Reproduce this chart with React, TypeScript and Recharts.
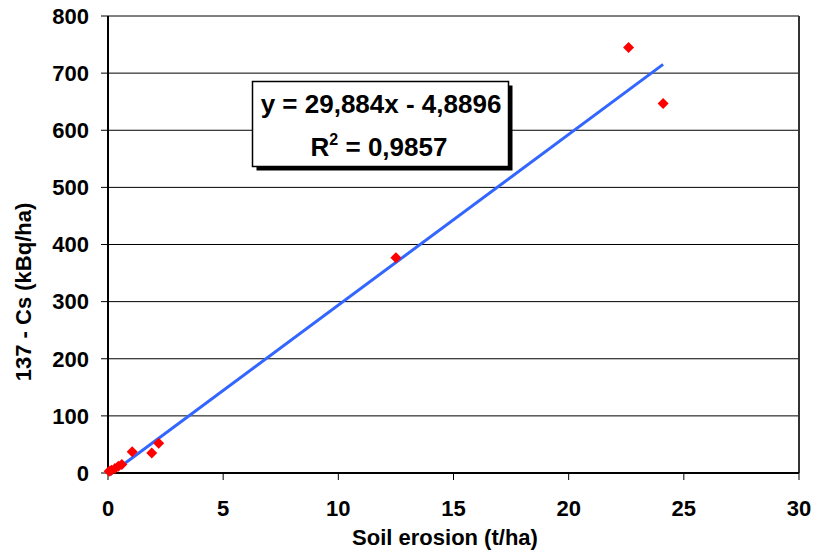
import React from "react";
import {
  ScatterChart, Scatter, XAxis, YAxis, CartesianGrid, ReferenceLine, Customized
} from "recharts";

// soil erosion (t/ha) vs 137-Cs (kBq/ha)
const erosion = [0.05, 0.15, 0.3, 0.45, 0.6, 1.05, 1.9, 2.2, 12.5, 22.6, 24.1];
const cesium = [3, 5, 8, 12, 15, 37, 35, 52, 377, 745, 647];

const xTicks = [0, 5, 10, 15, 20, 25, 30];
const yTicks = [0, 100, 200, 300, 400, 500, 600, 700, 800];

// trend line coefficients as printed on the chart
const slope = 29.884;
const intercept = -4.8896;
const rSquared = "0,9857";

const points = erosion.map((x, i) => ({ x, y: cesium[i] }));
const xMin = Math.min(...erosion);
const xMax = Math.max(...erosion);

const font = "'Liberation Sans', Arial, sans-serif";

const Diamond = (props: any) => {
  const { cx, cy } = props;
  const r = 5.5;
  return (
    <path
      d={`M${cx},${cy - r}L${cx + r},${cy}L${cx},${cy + r}L${cx - r},${cy}Z`}
      fill="#ff0000"
    />
  );
};

const EquationBox = () => (
  <g fontFamily={font} fontWeight="bold" fontSize={26} fill="#000">
    <rect x={256.5} y={85.5} width={256} height={85} fill="#000" />
    <rect x={252.5} y={81.5} width={256} height={85} fill="#fff" stroke="#000" strokeWidth={1.5} />
    <text x={381} y={113} textAnchor="middle">y = 29,884x - 4,8896</text>
    <text x={379} y={156} textAnchor="middle">
      R<tspan fontSize={16} dy={-11}>2</tspan><tspan dy={11}> = {rSquared}</tspan>
    </text>
  </g>
);

export default function App() {
  return (
    <div style={{ position: "absolute", left: 0, top: 0, background: "#fff" }}>
      <ScatterChart width={814} height={554} margin={{ top: 16, right: 15, left: 0, bottom: 0 }}>
        <CartesianGrid horizontal vertical={false} stroke="#000" strokeWidth={1} />
        <XAxis
          type="number"
          dataKey="x"
          domain={[0, 30]}
          ticks={xTicks}
          height={81}
          tickSize={7}
          tickMargin={20}
          axisLine={{ stroke: "#000", strokeWidth: 2 }}
          tickLine={{ stroke: "#000", strokeWidth: 1 }}
          tick={{ fill: "#000", fontSize: 22, fontWeight: "bold", fontFamily: font }}
          label={{
            content: () => (
              <text x={445} y={545} textAnchor="middle" fontFamily={font} fontWeight="bold" fontSize={22} fill="#000">
                Soil erosion (t/ha)
              </text>
            ),
          }}
        />
        <YAxis
          type="number"
          dataKey="y"
          domain={[0, 800]}
          ticks={yTicks}
          width={108}
          tickSize={7}
          tickMargin={12}
          axisLine={{ stroke: "#000", strokeWidth: 2 }}
          tickLine={{ stroke: "#000", strokeWidth: 1 }}
          tick={{ fill: "#000", fontSize: 22, fontWeight: "bold", fontFamily: font }}
          label={{
            content: () => (
              <text
                x={0}
                y={0}
                transform="translate(31,292) rotate(-90)"
                textAnchor="middle"
                fontFamily={font}
                fontWeight="bold"
                fontSize={22}
                fill="#000"
              >
                137 - Cs (kBq/ha)
              </text>
            ),
          }}
        />
        <ReferenceLine x={30} stroke="#333" strokeWidth={2} />
        <ReferenceLine
          segment={[
            { x: xMin, y: slope * xMin + intercept },
            { x: xMax, y: slope * xMax + intercept },
          ]}
          stroke="#3366ff"
          strokeWidth={3}
          ifOverflow="visible"
        />
        <Scatter data={points} shape={Diamond} isAnimationActive={false} />
        <Customized component={EquationBox} />
      </ScatterChart>
    </div>
  );
}
